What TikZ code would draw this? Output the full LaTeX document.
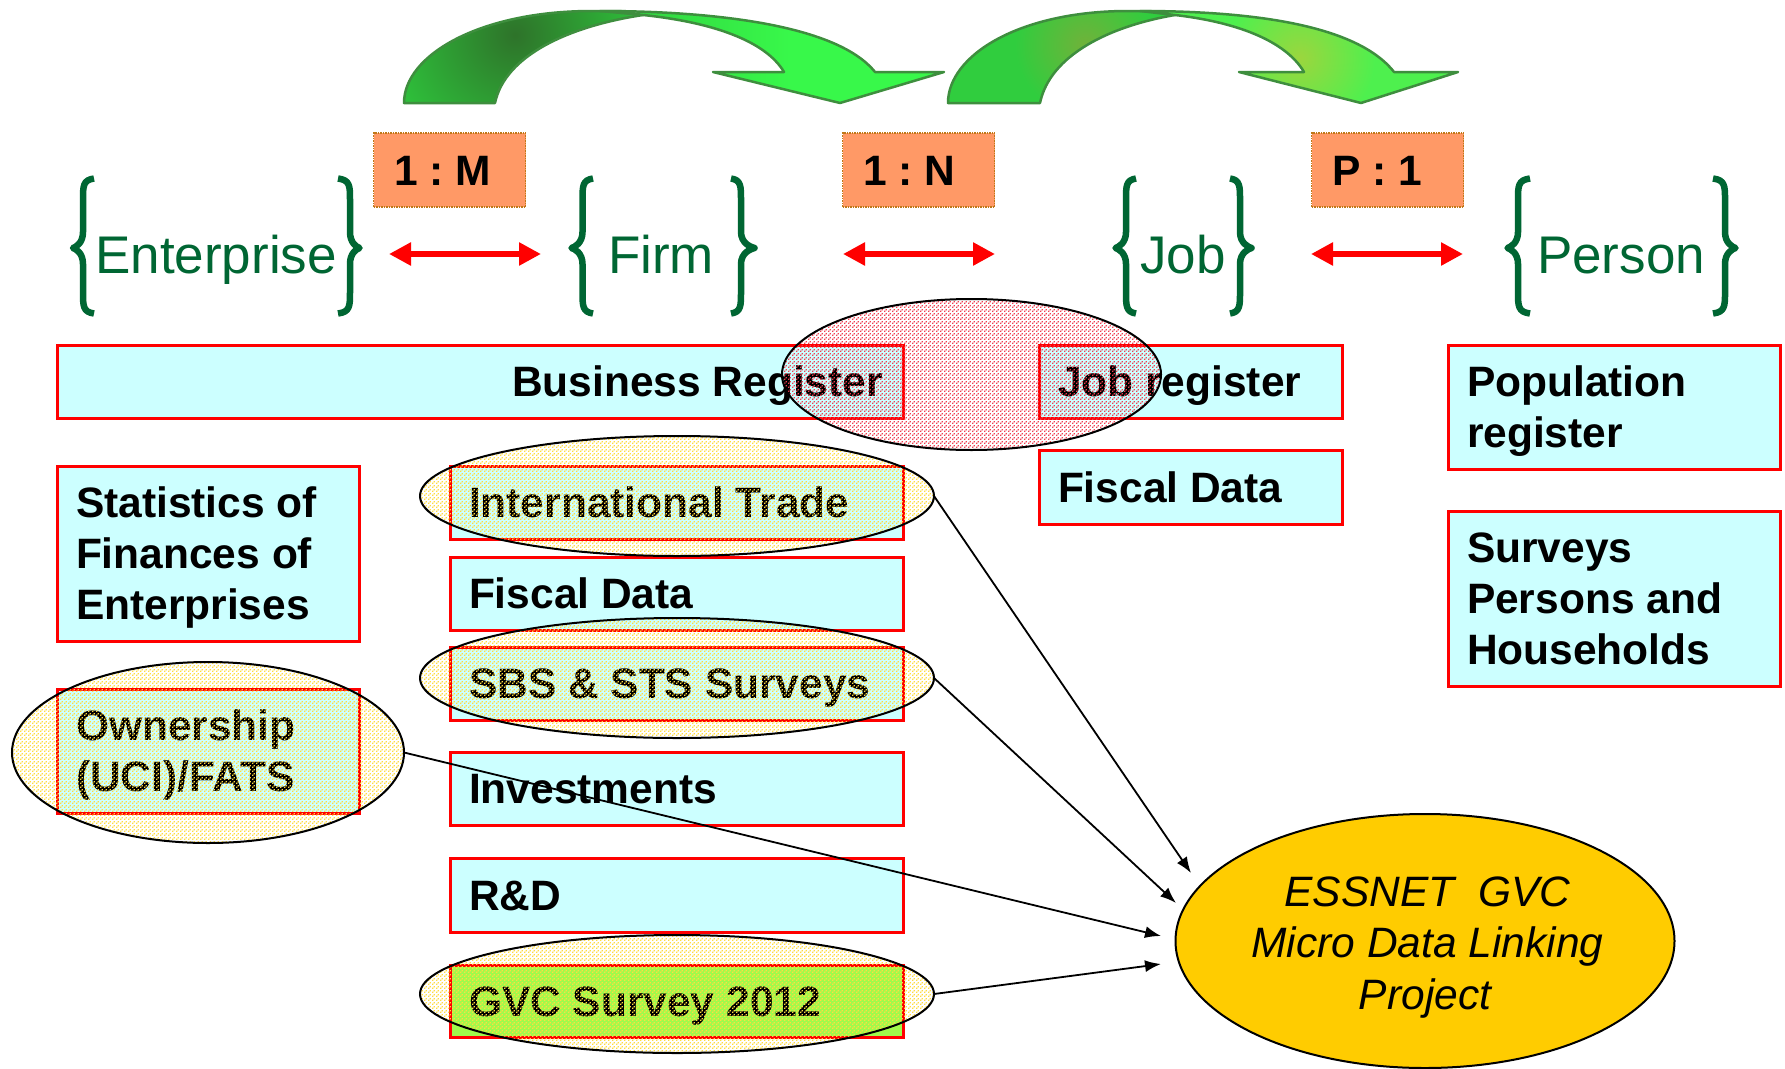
\documentclass[tikz,border=0pt]{standalone}
\usepackage{fontspec}
\setmainfont{Liberation Sans}
\usetikzlibrary{shapes.geometric,arrows.meta,patterns}
\definecolor{boxfill}{HTML}{CCFFFF}
\definecolor{bracegreen}{HTML}{006633}
\definecolor{orangefill}{HTML}{FF9966}
\definecolor{orangeedge}{HTML}{C07818}
\definecolor{goldfill}{HTML}{FFCC00}
\definecolor{arrowedge}{HTML}{3E8E3E}
\definecolor{ditheryellow}{HTML}{FFDC40}
\definecolor{ditherred}{HTML}{F04050}
\definecolor{gvcfill}{HTML}{A0FA4B}
\definecolor{aDark}{HTML}{2E732A}
\definecolor{aBase}{HTML}{2EBE3A}
\definecolor{aFrontL}{HTML}{32D741}
\definecolor{aFrontR}{HTML}{38F84A}
\definecolor{bBase}{HTML}{30CD3E}
\definecolor{bOlive}{HTML}{70B23A}
\definecolor{cBase}{HTML}{4EF04E}
\definecolor{cOlive}{HTML}{9BD63E}
\pgfdeclarepatternformonly{dither}{\pgfpointorigin}{\pgfqpoint{4pt}{4pt}}{\pgfqpoint{4pt}{4pt}}{%
  \pgfpathrectangle{\pgfqpoint{0pt}{0pt}}{\pgfqpoint{1.6pt}{1.6pt}}%
  \pgfpathrectangle{\pgfqpoint{2pt}{2pt}}{\pgfqpoint{1.6pt}{1.6pt}}%
  \pgfusepath{fill}}
\newcommand{\bs}{\spaceskip=0.278em\relax\xspaceskip=0.278em\relax\rule[-10pt]{0pt}{50pt}}
\newcommand{\bt}{\spaceskip=0.278em\relax\xspaceskip=0.278em\relax\rule[-7.5pt]{0pt}{50pt}}
\newcommand{\bracepath}[3]{%
  \draw[bracestroke] (#3,178.5) .. controls (#2,180) and (#2,186) .. (#2,200) -- (#2,232)
    .. controls (#2,243) and ({#1+(#2-#1)*0.3},247) .. (#1,248)
    .. controls ({#1+(#2-#1)*0.3},249) and (#2,253) .. (#2,264) -- (#2,292)
    .. controls (#2,306) and (#2,312) .. (#3,313.5);}
\def\backA{(404,103) .. controls (404,55) and (480,11) .. (592,11) -- (620,11) -- (643,15) .. controls (570,26) and (505,55) .. (495,103) -- cycle}
\def\frontA{(600,11) .. controls (700,11) and (835,22) .. (875,72) -- (944,72) -- (840,103) -- (713,72) -- (784,72) .. controls (765,40) and (710,22) .. (643,15) -- cycle}
\def\backB{(948,103) .. controls (948,55) and (1020,11) .. (1128,11) -- (1150,11) -- (1175,15) .. controls (1110,26) and (1050,55) .. (1040,103) -- cycle}
\def\frontB{(1140,11) .. controls (1240,11) and (1355,22) .. (1394,72) -- (1458,72) -- (1361,103) -- (1239,72) -- (1304,72) .. controls (1285,40) and (1235,22) .. (1175,15) -- cycle}
\tikzset{
  regbox/.style={draw=red,line width=3pt,fill=boxfill,rectangle,inner xsep=19pt,inner ysep=0pt,outer sep=0pt,
    font=\fontsize{42.5}{51}\selectfont\bfseries,align=left},
  ratiobox/.style={draw=orangeedge,line width=1.5pt,densely dotted,fill=orangefill,rectangle,inner xsep=21pt,inner ysep=0pt,outer sep=0pt,
    minimum height=74pt,text width=110pt,font=\fontsize{42.5}{51}\selectfont\bfseries,align=left},
  bracestroke/.style={draw=bracegreen,line width=6.5pt,line join=round},
  entity/.style={text=bracegreen,font=\fontsize{53}{60}\selectfont,anchor=base,inner sep=0pt},
  relarrow/.style={draw=red,line width=6.5pt,{Triangle[length=22pt,width=22pt]}-{Triangle[length=22pt,width=22pt]}},
  overlay yellow/.style={ellipse,draw=black,line width=2pt,pattern=dither,pattern color=ditheryellow,inner sep=0pt,outer sep=0pt},
  overlay red/.style={ellipse,draw=black,line width=2pt,pattern=dither,pattern color=ditherred,inner sep=0pt,outer sep=0pt},
  link/.style={draw=black,line width=1.8pt,-{Latex[length=16pt,width=12pt]}},
  archedge/.style={draw=arrowedge,line width=2.5pt,line join=round},
}
\begin{document}
\begin{tikzpicture}[x=1pt,y=-1pt]
\useasboundingbox (0,0) rectangle (1785,1068);
\fill[white] (0,0) rectangle (1785,1068);

% curved green arrows
\begin{scope}\clip \backA;
  \fill[aBase] (350,0) rectangle (700,110);
  \shade[inner color=aDark,outer color=aBase] (515,35) circle (125pt);
\end{scope}
\draw[archedge] \backA;
\begin{scope}\clip \frontA;
  \shade[left color=aFrontL,right color=aFrontR] (640,0) rectangle (790,110);
  \fill[aFrontR] (790,0) rectangle (950,110);
\end{scope}
\draw[archedge] \frontA;
\begin{scope}\clip \backB;
  \fill[bBase] (940,0) rectangle (1200,110);
  \shade[inner color=bOlive,outer color=bBase] (1085,45) circle (70pt);
\end{scope}
\draw[archedge] \backB;
\begin{scope}\clip \frontB;
  \fill[cBase] (1130,0) rectangle (1470,110);
  \shade[inner color=cOlive,outer color=cBase] (1300,58) circle (75pt);
\end{scope}
\draw[archedge] \frontB;

% ratio boxes
\node[ratiobox] (rm) at (449.5,170) {\bs 1 : M};
\node[ratiobox] (rn) at (918.5,170) {\bs 1 : N};
\node[ratiobox] (rp) at (1387.5,170) {\bs P : 1};

% braces and entity names
\bracepath{73}{83}{94}
\bracepath{359.5}{350}{338}
\bracepath{571.5}{582.5}{593}
\bracepath{754.5}{741}{731}
\bracepath{1115.5}{1126}{1136}
\bracepath{1251.5}{1240}{1230}
\bracepath{1507.5}{1518}{1530}
\bracepath{1735.5}{1725}{1713}
\node[entity] (enterprise) at (216,273) {Enterprise};
\node[entity] (firm) at (661,273) {Firm};
\node[entity] (job) at (1183,273) {Job};
\node[entity] (person) at (1621,273) {Person};

% red double arrows
\coordinate (a1) at (389,254); \coordinate (a2) at (541,254);
\coordinate (b1) at (843,254); \coordinate (b2) at (995,254);
\coordinate (c1) at (1311,254); \coordinate (c2) at (1463,254);
\draw[relarrow] (a1) -- (a2);
\draw[relarrow] (b1) -- (b2);
\draw[relarrow] (c1) -- (c2);

% register boxes
\node[regbox,minimum width=846pt,minimum height=73pt,inner xsep=20pt,text width=806pt,align=right] (business) at (480,381.5) {\bs Business Register};
\node[regbox,minimum width=303pt,minimum height=73pt,text width=265pt] (jobreg) at (1190.5,381.5) {\bs Job register};
\node[regbox,minimum width=303pt,minimum height=74pt,text width=265pt] (fiscalr) at (1190.5,487) {\bs Fiscal Data};
\node[regbox,minimum width=332pt,minimum height=124pt,text width=294pt] (population) at (1614,407) {\bs Population\\\bs register};
\node[regbox,minimum width=332pt,minimum height=175pt,text width=294pt] (surveys) at (1614,598.5) {\bs Surveys\\\bs Persons and\\\bs Households};
\node[regbox,minimum width=302pt,minimum height=175pt,text width=264pt] (stats) at (208,553.5) {\bs Statistics of\\\bs Finances of\\\bs Enterprises};
\node[regbox,minimum width=302pt,minimum height=124pt,text width=264pt] (ownership) at (208,751) {\bs Ownership\\\bs (UCI)/FATS};
\node[regbox,minimum width=453pt,minimum height=73pt,text width=415pt] (trade) at (676.5,502.5) {\bs International Trade};
\node[regbox,minimum width=453pt,minimum height=73pt,text width=415pt] (fiscalc) at (676.5,593.5) {\bs Fiscal Data};
\node[regbox,minimum width=453pt,minimum height=73pt,text width=415pt] (sbs) at (676.5,683.5) {\bs SBS \& STS Surveys};
\node[regbox,minimum width=453pt,minimum height=73pt,text width=415pt] (invest) at (676.5,788.5) {\bs Investments};
\node[regbox,minimum width=453pt,minimum height=74pt,text width=415pt] (rd) at (676.5,895) {\bs R\&D};
\node[regbox,minimum width=453pt,minimum height=72pt,text width=415pt,fill=gvcfill] (gvc) at (676.5,1001) {\bs GVC Survey 2012};

% translucent ovals
\node[overlay red,minimum width=379pt,minimum height=151pt] (ered) at (971.5,374.5) {};
\node[overlay yellow,minimum width=514pt,minimum height=120pt] (etrade) at (677,496) {};
\node[overlay yellow,minimum width=514pt,minimum height=120pt] (esbs) at (677,678) {};
\node[overlay yellow,minimum width=514pt,minimum height=118pt] (egvc) at (677,994) {};
\node[overlay yellow,minimum width=392pt,minimum height=181pt] (eown) at (208,752.5) {};

% target oval
\node[ellipse,draw=black,line width=2pt,fill=goldfill,inner sep=-20pt,outer sep=0pt,minimum width=499pt,minimum height=254pt,
  font=\fontsize{42.5}{51}\selectfont\itshape,align=center] (essnet) at (1425,941) {\bt\hspace*{5pt}ESSNET~~GVC\\\bt\hspace*{5pt}Micro Data Linking\\\bt Project\hspace{10pt}};

% connectors
\coordinate (t1) at (1191,873);
\coordinate (t2) at (1176,903);
\coordinate (t3) at (1161,936);
\coordinate (t4) at (1161,964);
\draw[link] (etrade.east) -- (t1);
\draw[link] (esbs.east) -- (t2);
\draw[link] (eown.east) -- (t3);
\draw[link] (egvc.east) -- (t4);
\end{tikzpicture}
\end{document}
